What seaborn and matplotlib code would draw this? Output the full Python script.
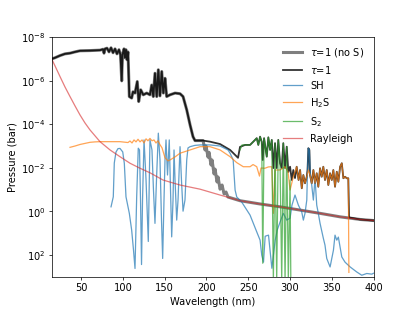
import numpy as np
import pandas as pd
import matplotlib
matplotlib.use("Agg")
import matplotlib.pyplot as plt
import seaborn as sns
from matplotlib.ticker import NullLocator

# ---- data (wavelength in nm, log10 of pressure in bar) ----
tau_wl = [15.0, 18.7, 24.7, 30.7, 36.7, 42.7, 48.6, 60.6, 72.6, 76.2, 77.4, 78.6, 81.0, 83.4,
          85.8, 88.2, 90.6, 92.9, 95.3, 97.1, 98.6, 99.5, 101.3, 102.5, 103.7, 104.9, 106.1,
          107.7, 110.5, 112.1, 114.5, 117.2, 118.9, 121.3, 124.4, 128.5, 132.4, 134.5, 136.4,
          138.4, 140.5, 142.4, 144.4, 146.5, 148.4, 150.4, 152.4, 156.4, 162.4, 168.4, 172.0,
          176.4, 180.4, 183.9, 186.3, 195.9, 204.3, 216.3, 228.3, 237.8, 240.2, 246.2, 252.2,
          256.1, 260.2, 262.1, 264.2, 266.2, 267.4, 269.0, 272.2, 274.1, 276.2, 278.2, 280.1,
          282.1, 284.1, 286.0, 288.1, 290.1, 292.0, 294.1, 296.1, 298.0, 300.1, 302.1, 304.0,
          306.0, 308.0, 310.3, 312.1, 314.1, 316.0, 318.0, 320.1, 321.0, 322.0, 323.2, 324.0,
          326.0, 328.0, 330.0, 332.0, 333.9, 336.0, 338.0, 339.9, 341.9, 344.0, 345.9, 348.0,
          350.0, 351.9, 353.9, 356.0, 357.9, 360.0, 362.0, 363.9, 365.9, 367.9, 369.8, 370.7,
          383.9, 400.0]
tau_logp = [-7.00, -7.05, -7.15, -7.23, -7.26, -7.32, -7.37, -7.38, -7.40, -7.44, -7.26, -7.46,
            -7.49, -7.32, -7.51, -7.28, -7.46, -7.23, -7.42, -7.19, -5.99, -7.19, -7.46, -7.05,
            -7.42, -6.96, -7.32, -5.27, -5.20, -5.49, -5.43, -5.96, -5.04, -5.58, -5.35, -5.43,
            -5.35, -5.80, -5.27, -6.34, -5.27, -6.50, -5.30, -6.42, -5.43, -6.11, -5.27, -5.35,
            -5.43, -5.40, -5.27, -4.66, -3.97, -3.43, -3.25, -3.25, -3.20, -3.09, -2.82, -2.46,
            -2.96, -3.05, -3.05, -3.20, -3.36, -3.05, -3.43, -3.19, -2.36, -3.36, -2.51, -3.40,
            -2.82, -3.28, -1.99, -3.13, -1.99, -3.28, -2.21, -1.99, -3.13, -1.99, -2.97, -1.81,
            -2.05, -1.44, -1.90, -1.53, -2.05, -1.44, -1.90, -1.06, -1.67, -1.29, -1.59, -1.90,
            -2.90, -2.82, -1.67, -1.29, -1.90, -1.29, -1.75, -1.13, -1.98, -1.59, -2.05, -1.44,
            -1.90, -1.21, -1.75, -1.44, -1.90, -1.13, -1.82, -1.36, -2.05, -2.21, -1.52, -1.59,
            -1.52, -1.52, 0.28, 0.37, 0.42]

# tau=1 without sulfur: identical to tau=1 below 197 nm, then these points
nos_tail_wl = [198.3, 199.5, 201.9, 203.1, 205.5, 206.7, 209.1, 210.3, 212.7, 213.9, 216.3,
               218.7, 221.1, 223.4, 225.8, 240.2, 264.2, 288.1, 312.1, 336.0, 360.0, 383.9, 400.0]
nos_tail_logp = [-2.82, -3.00, -2.49, -2.71, -2.13, -2.36, -1.72, -1.94, -1.35, -1.58, -1.02,
                 -1.21, -0.80, -0.89, -0.66, -0.49, -0.34, -0.21, -0.06, 0.09, 0.25, 0.37, 0.42]

sh_wl = [85.8, 88.5, 89.7, 91.7, 94.1, 96.5, 99.8, 101.7, 103.7, 107.7, 110.5, 112.7, 114.5,
         116.5, 118.4, 119.9, 121.1, 122.3, 123.5, 125.3, 127.7, 130.4, 132.4, 134.8, 136.6,
         138.4, 140.2, 142.4, 144.4, 146.2, 147.6, 149.2, 150.4, 151.6, 153.4, 155.5, 157.0,
         158.4, 160.0, 161.2, 162.4, 164.4, 166.0, 168.4, 170.1, 172.0, 174.3, 176.4, 177.9,
         180.4, 186.3, 192.3, 204.3, 216.3, 225.8, 228.3, 232.0, 234.3, 236.3, 242.2, 252.2,
         260.2, 264.2, 266.2, 268.3, 270.3, 274.3, 278.3, 282.3, 284.7, 288.1, 292.0, 296.1,
         300.1, 302.4, 306.0, 310.0, 314.1, 316.0, 318.0, 320.1, 321.0, 322.0, 323.2, 324.0,
         326.0, 328.0, 330.0, 332.0, 333.9, 336.0, 339.9, 341.9, 344.0, 348.0, 352.0, 353.9,
         356.0, 357.9, 362.0, 365.9, 372.0, 379.9, 385.9, 391.9, 397.9, 400.0]
sh_logp = [-0.21, -0.67, -2.22, -2.72, -2.88, -2.89, -2.73, -2.21, -0.67, 0.09, 0.86, 1.78, 2.62,
           -0.67, -2.90, -2.82, -0.52, 2.44, -0.52, -3.28, -1.44, 1.38, -3.28, -2.82, -0.98,
           0.55, -1.44, -3.59, -2.36, 0.40, 2.16, -0.52, -2.36, -3.28, -1.67, -3.28, -0.98,
           1.17, -0.52, -2.82, -1.44, 0.40, -0.52, -2.97, -1.44, -0.01, -0.52, -2.36, -2.91,
           -2.97, -3.03, -3.05, -3.05, -3.00, -2.82, -2.67, -2.36, -0.98, -0.66, -0.43, 0.17,
           0.94, 1.32, 2.01, 2.33, 1.14, 1.09, 2.61, 1.32, 0.86, 0.49, 0.09, 0.40,
           0.31, -0.29, -0.75, -0.29, 0.03, 0.40, 0.08, -0.52, -1.90, -2.90, -2.82, -1.90,
           -1.21, -0.52, -1.53, -0.29, 0.09, 0.55, 1.23, 1.55, 2.16, 2.55, 1.78, 1.09,
           1.32, 1.18, 2.09, 2.33, 2.55, 2.78, 2.93, 2.85, 2.88, 2.84]

h2s_wl = [36.7, 42.7, 48.6, 54.6, 60.6, 66.6, 72.6, 84.6, 96.5, 106.1, 108.5, 110.9, 113.3,
          115.7, 118.1, 120.5, 122.9, 125.3, 127.7, 130.0, 132.4, 134.8, 137.2, 139.6, 142.0,
          144.4, 146.8, 150.4, 154.0, 156.4, 162.4, 168.4, 180.4, 192.3, 204.3, 216.3, 228.3,
          236.2, 244.1, 252.2, 255.8, 260.2, 263.5, 265.3, 270.0, 274.1, 278.2, 280.1, 282.1,
          288.1, 294.1, 297.7, 300.1, 304.0, 308.0, 310.3, 312.1, 314.1, 316.0, 318.0, 320.1,
          322.0, 324.0, 326.0, 328.0, 330.0, 332.0, 333.9, 336.0, 338.0, 339.9, 341.9, 344.0,
          345.9, 348.0, 350.0, 351.9, 353.9, 356.0, 357.9, 360.0, 362.0, 363.9, 365.9, 367.9,
          369.8, 370.5]
h2s_logp = [-2.94, -3.00, -3.07, -3.12, -3.17, -3.19, -3.20, -3.20, -3.20, -3.16, -3.23, -3.14,
            -3.28, -3.19, -3.31, -3.19, -3.28, -3.14, -3.33, -3.24, -3.35, -3.24, -3.28, -3.14,
            -3.24, -3.06, -2.92, -2.46, -2.32, -2.36, -2.50, -2.67, -2.82, -2.97, -2.97, -2.82,
            -2.51, -2.24, -2.05, -2.05, -2.15, -2.05, -1.62, -1.99, -1.98, -2.04, -2.05, 0.09,
            -1.90, -1.90, -2.05, -1.81, -0.98, -1.59, -2.05, -1.44, -1.90, -1.06, -1.67, -1.29,
            -1.59, -1.90, -1.67, -1.29, -1.90, -1.29, -1.75, -1.13, -1.98, -1.59, -2.05, -1.44,
            -1.90, -1.21, -1.75, -1.44, -1.90, -1.13, -1.82, -1.36, -2.05, -2.21, -1.52, -1.59,
            -1.52, -1.52, 2.80]

s2_wl = [240.2, 242.6, 246.2, 252.2, 256.1, 260.2, 262.1, 264.2, 266.2, 267.4, 269.0, 272.2,
         274.1, 276.2, 278.2, 280.1, 282.1, 284.1, 286.0, 288.1, 290.1, 292.0, 294.1, 296.1,
         298.0, 300.1, 301.0]
s2_logp = [-2.82, -3.05, -3.05, -3.05, -3.20, -3.36, -3.05, -3.43, -3.19, 2.38, -3.36, -2.51,
           -3.40, -2.82, -3.28, 3.16, -3.13, 3.16, -3.28, -2.21, 3.16, -3.13, 3.16, -2.97,
           3.16, -1.44, 3.16]

ray_wl = [15.0, 18.7, 24.7, 30.7, 36.7, 42.7, 48.6, 54.6, 60.6, 72.6, 84.6, 96.5, 108.5, 120.5,
          132.5, 148.0, 168.4, 192.3, 216.3, 240.2, 264.2, 288.1, 312.1, 336.0, 360.0, 383.9, 400.0]
ray_logp = [-6.98, -6.68, -6.19, -5.71, -5.27, -4.84, -4.43, -4.06, -3.74, -3.20, -2.82, -2.51,
            -2.21, -1.98, -1.77, -1.44, -1.21, -1.02, -0.75, -0.49, -0.34, -0.21, -0.06, 0.09,
            0.25, 0.37, 0.42]

labels = [r"$\tau$=1 (no S)", r"$\tau$=1", "SH", r"H$_2$S", r"S$_2$", "Rayleigh"]

# ---- build tables ----
tau_wl_a = np.array(tau_wl)
tau_lp_a = np.array(tau_logp)
keep = tau_wl_a < 197
nos_wl = np.concatenate([tau_wl_a[keep], nos_tail_wl])
nos_lp = np.concatenate([tau_lp_a[keep], nos_tail_logp])

def frame(wl, lp):
    return pd.DataFrame({"wl": wl, "p": 10.0 ** np.asarray(lp)})

plt.rcParams["font.size"] = 11
DPI = 64.85
fig, ax = plt.subplots(figsize=(6.4, 4.8), dpi=DPI)

styles = [
    (frame(nos_wl, nos_lp), dict(color="k", lw=3.4, alpha=0.5)),
    (frame(tau_wl, tau_logp), dict(color="k", lw=2.0, alpha=0.8)),
    (frame(sh_wl, sh_logp), dict(color="C0", lw=1.4, alpha=0.7)),
    (frame(h2s_wl, h2s_logp), dict(color="C1", lw=1.4, alpha=0.7)),
    (frame(s2_wl, s2_logp), dict(color="C2", lw=1.4, alpha=0.7)),
    (frame(ray_wl, ray_logp), dict(color="C3", lw=1.4, alpha=0.6)),
]
for (df, st), lab in zip(styles, labels):
    sns.lineplot(data=df, x="wl", y="p", ax=ax, label=lab, estimator=None, sort=False, **st)

ax.set_yscale("log")
ax.set_ylim(1e3, 1e-8)
ax.set_xlim(15, 400)
ax.set_yticks([1e-8, 1e-6, 1e-4, 1e-2, 1e0, 1e2])
ax.yaxis.set_minor_locator(NullLocator())
ax.set_xlabel("Wavelength (nm)")
ax.set_ylabel("Pressure (bar)")
ax.legend(loc="upper right", frameon=False)

fig.savefig("out.png", dpi=DPI)
